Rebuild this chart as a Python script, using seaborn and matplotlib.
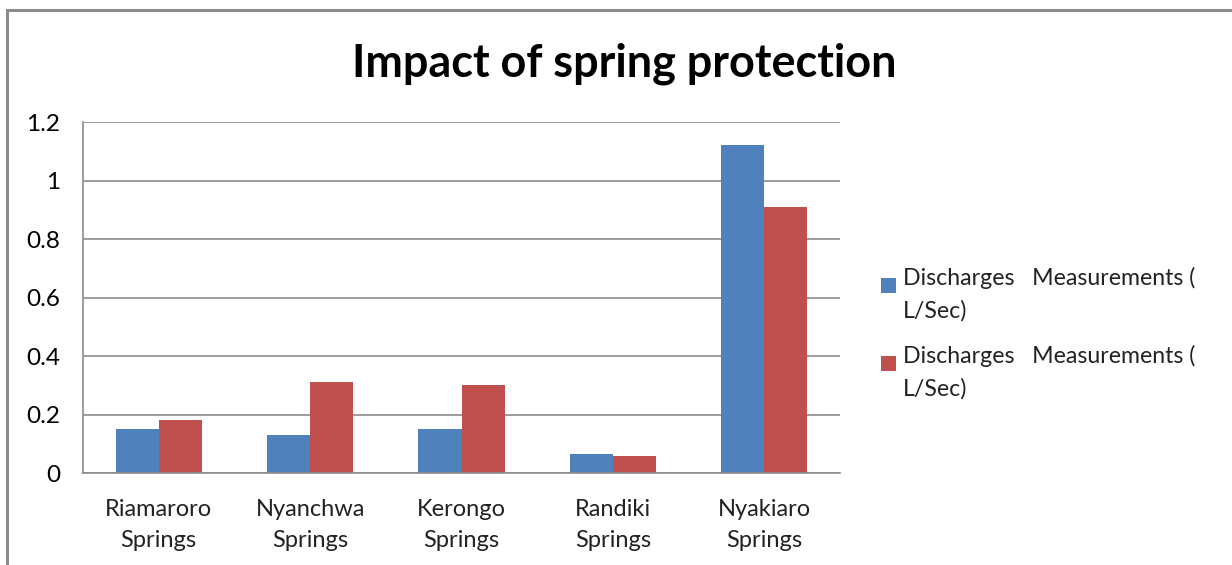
import matplotlib
matplotlib.use("Agg")
import matplotlib.pyplot as plt
import matplotlib.patches as mpatches
import seaborn as sns
import pandas as pd

springs = ["Riamaroro\nSprings", "Nyanchwa\nSprings", "Kerongo\nSprings",
           "Randiki\nSprings", "Nyakiaro\nSprings"]
series_names = ["Discharges   Measurements (\nL/Sec)", "Discharges   Measurements (\nL/Sec) "]
before = [0.15, 0.13, 0.15, 0.064, 1.122]
after = [0.18, 0.31, 0.30, 0.058, 0.908]
yticks = [0, 0.2, 0.4, 0.6, 0.8, 1, 1.2]
ytick_labels = ["0", "0.2", "0.4", "0.6", "0.8", "1", "1.2"]
colors = ["#4F81BD", "#C0504D"]

df = pd.DataFrame({
    "spring": springs * 2,
    "series": [series_names[0]] * len(springs) + [series_names[1]] * len(springs),
    "value": before + after,
})

sns.set_theme(style="white")
plt.rcParams["font.family"] = ["Lato", "DejaVu Sans"]

W, H = 1232, 565
fig = plt.figure(figsize=(W / 100, H / 100), dpi=100)
ax = fig.add_axes([0.0674, 0.1628, 0.6144, 0.6212])

sns.barplot(data=df, x="spring", y="value", hue="series", palette=colors,
            width=0.57, saturation=1, errorbar=None, ax=ax, legend=False,
            edgecolor="none")

ax.set_ylim(0, 1.2)
ax.set_xlim(-0.5, len(springs) - 0.5)
ax.set_yticks(yticks)
ax.set_yticklabels(ytick_labels)
ax.set_xlabel("")
ax.set_ylabel("")
ax.yaxis.grid(True, color="#8c8c8c", linewidth=1.2)
ax.set_axisbelow(True)
for side in ["top", "right"]:
    ax.spines[side].set_visible(False)
for side in ["left", "bottom"]:
    ax.spines[side].set_color("#8c8c8c")
    ax.spines[side].set_linewidth(1.2)
ax.tick_params(axis="y", labelsize=17.5, colors="#000000", pad=16.5, length=0)
ax.tick_params(axis="x", labelsize=17, colors="#222222", pad=19, length=0)
for lbl in ax.get_xticklabels():
    lbl.set_linespacing(1.55)

fig.text(0.507, 0.887, "Impact of spring protection", ha="center", va="center",
         fontsize=32.4, fontweight="bold", color="#000000")

# legend: square key beside the first line of each two-line entry
key_px = 15
entry_baselines = [285, 363]
line_gap = 33
for color, name, base in zip(colors, series_names, entry_baselines):
    fig.patches.append(mpatches.Rectangle(
        (881 / W, 1 - (base + 8) / H), key_px / W, key_px / H,
        transform=fig.transFigure, facecolor=color, edgecolor="none"))
    for i, line in enumerate(name.strip().split("\n")):
        fig.text(903 / W, 1 - (base + i * line_gap) / H, line, ha="left",
                 va="baseline", fontsize=16.7, color="#222222")

# outer chart border, cut off on the right and bottom
border = mpatches.Rectangle((7 / W, -0.1), 1.2, 1 - 10 / H + 0.1,
                            transform=fig.transFigure, fill=False,
                            edgecolor="#8c8c8c", linewidth=2.2)
fig.patches.append(border)

fig.savefig("out.png", dpi=100)
